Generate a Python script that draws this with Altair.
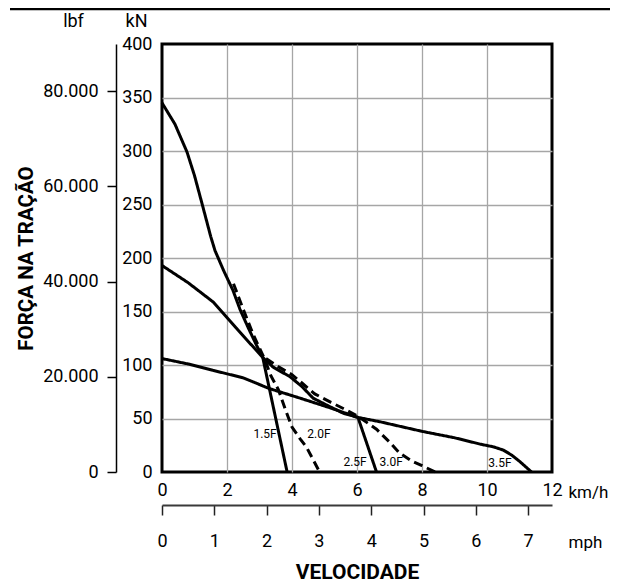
import altair as alt
import pandas as pd

FONT = "Roboto, Liberation Sans, sans-serif"

# ---- data (speed km/h, tractive force kN) ----
c1_x = [0, 0.4, 0.77, 1.0, 1.23, 1.5, 1.63, 1.9, 2.18, 2.4, 2.65, 2.9, 3.1, 3.85]
c1_y = [345, 325, 299, 277, 251, 220, 207, 188, 170, 152, 135, 119, 107, 0]

d1_x = [2.2, 2.5, 2.8, 3.15, 3.35, 3.58, 3.8, 4.0, 4.25, 4.45, 4.85]
d1_y = [176, 152, 129, 106, 90, 77, 58, 42, 31, 23, 0]

c2_x = [0, 0.8, 1.57, 2.3, 3.1, 3.42, 3.94, 4.3, 4.65, 5.17, 5.57, 6.03, 6.6]
c2_y = [193, 177, 159, 134, 107, 98, 89, 80, 69, 61, 55, 51, 0]

d2_x = [3.2, 3.6, 4.0, 4.35, 4.7, 5.2, 5.6, 6.03, 6.6, 7.0, 7.3, 7.7, 8.0, 8.4]
d2_y = [106, 98, 91, 82, 73, 65, 59, 52, 40, 28, 18, 10, 6, 0]

c3_x = [0, 0.8, 1.57, 2.5, 3.3, 4.25, 5.17, 6.03, 6.7, 8.0, 9.0, 9.8, 10.2, 10.5, 10.75, 11.0, 11.37]
c3_y = [106, 101, 95, 88, 78, 69, 60, 51, 47, 38, 32, 26, 23.5, 20.5, 16, 10, 0]

label_text = ["1.5F", "2.0F", "2.5F", "3.0F", "3.5F"]
label_x = [3.17, 4.83, 5.94, 7.05, 10.4]
label_y = [35.5, 35.5, 9.3, 9.3, 8.4]

kmh_ticks = [0, 2, 4, 6, 8, 10, 12]
kn_ticks = [0, 50, 100, 150, 200, 250, 300, 350, 400]
lbf_ticks = [0, 20000, 40000, 60000, 80000]
mph_ticks = [0, 1, 2, 3, 4, 5, 6, 7]

KMH_MAX = 12
KN_MAX = 400
LBF_PER_KN = 224.809
KMH_PER_MPH = 1.609344

rows = []
for name, style, xs, ys in [("c1", "solid", c1_x, c1_y), ("d1", "dashed", d1_x, d1_y),
                            ("c2", "solid", c2_x, c2_y), ("d2", "dashed", d2_x, d2_y),
                            ("c3", "solid", c3_x, c3_y)]:
    for i, (x, y) in enumerate(zip(xs, ys)):
        rows.append({"curve": name, "style": style, "i": i, "kmh": x, "kn": y})
curves = pd.DataFrame(rows)
labels = pd.DataFrame({"text": label_text, "kmh": label_x, "kn": label_y})

xscale = alt.Scale(domain=[0, KMH_MAX], nice=False, zero=False)
yscale = alt.Scale(domain=[0, KN_MAX], nice=False, zero=False)

edge_x = {"condition": {"test": "datum.value === 0 || datum.value === 12", "value": 0}, "value": 1}
edge_y = {"condition": {"test": "datum.value === 0 || datum.value === 400", "value": 0}, "value": 1}

LBL = 18
UNIT = 17

lines = alt.Chart(curves).mark_line(color="black", strokeWidth=3).encode(
    x=alt.X("kmh:Q", scale=xscale, axis=alt.Axis(
        orient="bottom", values=kmh_ticks, domain=False, ticks=False, labelPadding=9,
        labelFontSize=LBL, labelFlush=False, labelOverlap=False,
        grid=True, gridColor="#a6a6a6", gridWidth=1.3, gridOpacity=edge_x,
        title="km/h", titleX=406, titleY=25, titleAlign="left", titleBaseline="alphabetic",
        titleFontSize=UNIT, titleFontWeight="normal")),
    y=alt.Y("kn:Q", scale=yscale, axis=alt.Axis(
        orient="left", values=kn_ticks, domain=False, ticks=False, labelPadding=10,
        labelFontSize=LBL, labelFlush=False, labelOverlap=False,
        grid=True, gridColor="#a6a6a6", gridWidth=1.3, gridOpacity=edge_y,
        title="kN", titleAngle=0, titleX=-26, titleY=-18, titleAlign="center",
        titleBaseline="alphabetic", titleFontSize=LBL, titleFontWeight="normal")),
    detail="curve:N",
    order="i:Q",
    strokeDash=alt.StrokeDash("style:N", scale=alt.Scale(domain=["solid", "dashed"], range=[[1, 0], [9, 5]]), legend=None),
)

texts = alt.Chart(labels).mark_text(font=FONT, fontSize=12, color="black", align="center", baseline="middle").encode(
    x=alt.X("kmh:Q", scale=xscale), y=alt.Y("kn:Q", scale=yscale), text="text:N")

top_rule = alt.Chart(pd.DataFrame({"a": [0]})).mark_rule(color="black", strokeWidth=2.5).encode(
    x=alt.value(-152), x2=alt.value(456), y=alt.value(-35))

main = alt.layer(lines, texts, top_rule)

dummy = pd.DataFrame({"mph": [0, KMH_MAX / KMH_PER_MPH], "lbf": [0, KN_MAX * LBF_PER_KN]})
lbf_layer = alt.Chart(dummy).mark_point(opacity=0).encode(
    x=alt.X("mph:Q", scale=alt.Scale(domain=[0, KMH_MAX / KMH_PER_MPH], nice=False, zero=False), axis=alt.Axis(
        orient="bottom", offset=33, values=mph_ticks, domain=True, domainColor="#3a3a3a", domainWidth=2,
        ticks=True, tickColor="#222222", tickWidth=1.5, tickSize=10, labelPadding=17,
        labelFontSize=LBL, labelFlush=False, labelOverlap=False, grid=False,
        title="mph", titleX=406, titleY=42, titleAlign="left", titleBaseline="alphabetic",
        titleFontSize=UNIT, titleFontWeight="normal")),
    y=alt.Y("lbf:Q", scale=alt.Scale(domain=[0, KN_MAX * LBF_PER_KN], nice=False, zero=False), axis=alt.Axis(
        orient="left", offset=46, values=lbf_ticks, domain=True, domainColor="black", domainWidth=1.5,
        ticks=True, tickColor="black", tickWidth=1.5, tickSize=9, labelPadding=9,
        labelExpr="replace(format(datum.value, ','), ',', '.')",
        labelFontSize=LBL, labelFlush=False, labelOverlap=False, grid=False,
        title="lbf", titleAngle=0, titleX=-43, titleY=-18, titleAlign="center",
        titleBaseline="alphabetic", titleFontSize=LBL, titleFontWeight="normal")),
)

dummy2 = pd.DataFrame({"u": [0, 1], "v": [0, 1]})
title_layer = alt.Chart(dummy2).mark_point(opacity=0).encode(
    x=alt.X("u:Q", scale=alt.Scale(domain=[0, 1]), axis=alt.Axis(
        orient="bottom", labels=False, ticks=False, domain=False, grid=False,
        title="VELOCIDADE", titleX=195, titleY=106, titleAlign="center", titleBaseline="alphabetic",
        titleFontSize=21, titleFontWeight="bold")),
    y=alt.Y("v:Q", scale=alt.Scale(domain=[0, 1]), axis=alt.Axis(
        orient="left", labels=False, ticks=False, domain=False, grid=False,
        title="FORÇA NA TRAÇÃO", titleAngle=270, titleX=-130, titleY=214, titleAlign="center",
        titleBaseline="alphabetic", titleFontSize=20.5, titleFontWeight="bold")),
)

chart = alt.layer(main, lbf_layer, title_layer).resolve_scale(
    x="independent", y="independent"
).properties(
    width=390, height=428,
    padding={"left": 154, "top": 36, "right": 58, "bottom": 110},
    autosize=alt.AutoSizeParams(type="none"),
).configure_view(stroke="black", strokeWidth=3).configure_axis(
    labelFont=FONT, titleFont=FONT, labelColor="black", titleColor="black"
)

chart.save("out.html", embed_options={"renderer": "svg", "actions": False})
